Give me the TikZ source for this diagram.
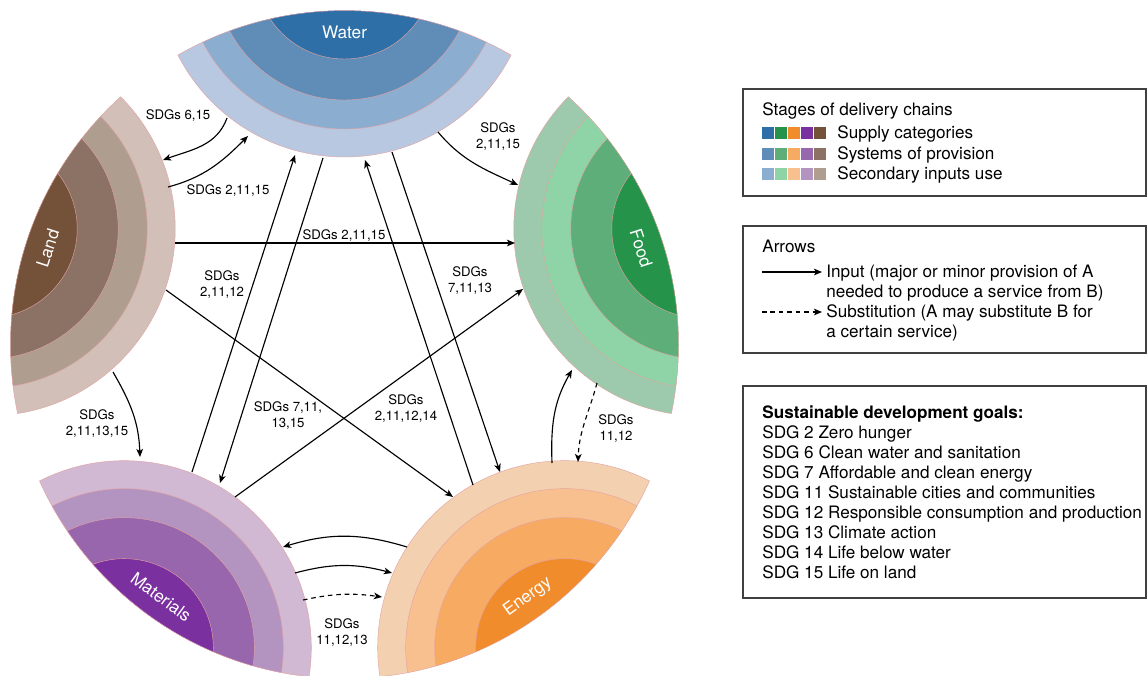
\documentclass[tikz,border=0pt]{standalone}
\usepackage{fontspec}
\setmainfont{TeX Gyre Heros}
\usetikzlibrary{arrows.meta}

% supply (A), provision (B), secondary inputs (C), outer band (D)
\definecolor{waterA}{HTML}{2E6FA8}
\definecolor{waterB}{HTML}{5F8DB8}
\definecolor{waterC}{HTML}{8BADD0}
\definecolor{waterD}{HTML}{B8C8E0}
\definecolor{foodA}{HTML}{25934A}
\definecolor{foodB}{HTML}{5DAE79}
\definecolor{foodC}{HTML}{8ED4A6}
\definecolor{foodD}{HTML}{9DCAAC}
\definecolor{energyA}{HTML}{F08C2C}
\definecolor{energyB}{HTML}{F7AA62}
\definecolor{energyC}{HTML}{F8C08F}
\definecolor{energyD}{HTML}{F3D1B0}
\definecolor{materialsA}{HTML}{7A309F}
\definecolor{materialsB}{HTML}{9866AD}
\definecolor{materialsC}{HTML}{B394C0}
\definecolor{materialsD}{HTML}{D1B8D3}
\definecolor{landA}{HTML}{74523A}
\definecolor{landB}{HTML}{8B7264}
\definecolor{landC}{HTML}{AF9D8F}
\definecolor{landD}{HTML}{D1BFB8}
\definecolor{rim}{HTML}{E3A3A3}

\begin{document}
\begin{tikzpicture}[x=0.02cm,y=0.02cm,
    conn/.style={draw=black,line width=0.65pt,-{Stealth[length=4.6pt,width=3.8pt,inset=1.2pt]}},
    subst/.style={conn,dash pattern=on 2.6pt off 2.2pt},
    sdg/.style={font=\fontsize{7.5}{9.1}\selectfont,align=center,inner sep=0pt},
    sector/.style={text=white,font=\fontsize{9.8}{12}\selectfont,inner sep=0pt},
    legtext/.style={font=\fontsize{9.75}{11.7}\selectfont,inner sep=0pt,anchor=base west},
    legbox/.style={draw=black!75,line width=0.6pt}]
\useasboundingbox (0,0) rectangle (1147,-676);
\clip (0,0) rectangle (1147,-676);

% the five delivery chains
\begin{scope}[shift={(344.5,-344.6)}]
  \begin{scope}
    \clip (0,0) circle (334);
    \foreach \nm/\ang in {water/90,food/18,energy/-54,materials/-126,land/162}
      \foreach \r/\k in {187/D,159/C,130/B,89/A}
        \filldraw[fill=\nm\k,draw=rim,line width=0.25pt] (\ang:374.6) circle (\r);
  \end{scope}
  \foreach \ang in {90,18,-54,-126,162}{
    \begin{scope}
      \clip (\ang:374.6) circle (187);
      \draw[rim,line width=0.25pt] (0,0) circle (334);
    \end{scope}}
  \node[sector] (water) at (90:312) {Water};
  \node[sector,rotate=-72] (food) at (18:312) {Food};
  \node[sector,rotate=36] (energy) at (-54:312) {Energy};
  \node[sector,rotate=-36] (materials) at (-126:312) {Materials};
  \node[sector,rotate=72] (land) at (162:312) {Land};
\end{scope}

% connector ends
\coordinate (w1) at (227,-118);
\coordinate (w2) at (248,-136);
\coordinate (w3) at (438,-132);
\coordinate (w4) at (295,-155);
\coordinate (w5) at (323,-158);
\coordinate (w6) at (365,-160);
\coordinate (w7) at (392,-152);
\coordinate (l1) at (163,-160);
\coordinate (l2) at (168,-187);
\coordinate (l3) at (175,-243);
\coordinate (l4) at (166,-290);
\coordinate (l5) at (113,-372);
\coordinate (f1) at (518,-185);
\coordinate (f2) at (515,-243);
\coordinate (f3) at (523,-289);
\coordinate (f4) at (572,-370);
\coordinate (f5) at (597,-383);
\coordinate (e1) at (453,-497);
\coordinate (e2) at (473,-485);
\coordinate (e3) at (500,-472);
\coordinate (e4) at (552,-463);
\coordinate (e5) at (578,-462);
\coordinate (e6) at (407,-547);
\coordinate (e7) at (392,-573);
\coordinate (e8) at (382,-597);
\coordinate (m1) at (140,-457);
\coordinate (m2) at (192,-472);
\coordinate (m3) at (220,-483);
\coordinate (m4) at (235,-497);
\coordinate (m5) at (283,-547);
\coordinate (m6) at (295,-573);
\coordinate (m7) at (303,-600);

\draw[conn] (w1) to[out=-110,in=20] (l1);
\draw[conn] (l2) to[out=15,in=-135] (w2);
\draw[conn] (w3) to[out=-50,in=155] (f1);
\draw[conn] (l3) -- (f2);
\draw[conn] (l4) -- (e1);
\draw[conn] (m4) -- (f3);
\draw[conn] (l5) to[out=-60,in=92] (m1);
\draw[conn] (m2) -- (w4);
\draw[conn] (w5) -- (m3);
\draw[conn] (e2) -- (w6);
\draw[conn] (w7) -- (e3);
\draw[conn] (e6) to[bend right=17] (m5);
\draw[conn] (m6) to[bend left=15] (e7);
\draw[subst] (m7) to[bend left=10] (e8);
\draw[conn] (e4) to[out=92,in=-120] (f4);
\draw[subst] (f5) to[out=-105,in=88] (e5);

\node[sdg] (tWL) at (178,-116) {SDGs 6,15};
\node[sdg] (tLW) at (228,-191) {SDGs 2,11,15};
\node[sdg] (tWF) at (498,-137) {SDGs\\2,11,15};
\node[sdg] (tLF) at (344,-236) {SDGs 2,11,15};
\node[sdg] (tLE) at (222,-285) {SDGs\\2,11,12};
\node[sdg] (tWE) at (470,-281) {SDGs\\7,11,13};
\node[sdg] (tMW) at (288,-416) {SDGs 7,11,\\13,15};
\node[sdg] (tMF) at (406,-409) {SDGs\\2,11,12,14};
\node[sdg] (tLM) at (97,-424) {SDGs\\2,11,13,15};
\node[sdg] (tME) at (342,-633) {SDGs\\11,12,13};
\node[sdg] (tEF) at (616,-429) {SDGs\\11,12};

% legend: stages
\draw[legbox] (743,-89) rectangle (1146,-196);
\node[legtext] (stages) at (762,-115) {Stages of delivery chains};
\foreach \col [count=\i from 0] in {water,food,energy,materials,land}{
  \fill[fill=\col A] ({762+13*\i},-127) rectangle ++(12,-12);
  \fill[fill=\col B] ({762+13*\i},-148) rectangle ++(12,-12);
  \fill[fill=\col C] ({762+13*\i},-168) rectangle ++(12,-12);
}
\node[legtext] (supply) at (837,-138) {Supply categories};
\node[legtext] (systems) at (837,-159) {Systems of provision};
\node[legtext] (secondary) at (837,-179) {Secondary inputs use};

% legend: arrows
\draw[legbox] (743,-226) rectangle (1146,-353);
\node[legtext] (arrows) at (762,-252) {Arrows};
\coordinate (ka) at (762,-272);
\coordinate (kb) at (822,-272);
\coordinate (kc) at (762,-312);
\coordinate (kd) at (822,-312);
\draw[conn] (ka) -- (kb);
\draw[subst] (kc) -- (kd);
\node[legtext] (input) at (826,-277) {Input (major or minor provision of A};
\node[legtext] (input2) at (826,-297) {needed to produce a service from B)};
\node[legtext] (substtext) at (826,-317) {Substitution (A may substitute B for};
\node[legtext] (substtext2) at (826,-337) {a certain service)};

% legend: goals
\draw[legbox] (743,-386) rectangle (1146,-598);
\node[legtext,font=\fontsize{9.75}{11.7}\selectfont\bfseries] (goals) at (762,-418) {Sustainable development goals:};
\foreach \t [count=\i] in {SDG 2 Zero hunger,SDG 6 Clean water and sanitation,SDG 7 Affordable and clean energy,SDG 11 Sustainable cities and communities,SDG 12 Responsible consumption and production,SDG 13 Climate action,SDG 14 Life below water,SDG 15 Life on land}
  \node[legtext] (goal\i) at (762,{-418-20.1*\i}) {\t};
\end{tikzpicture}
\end{document}
